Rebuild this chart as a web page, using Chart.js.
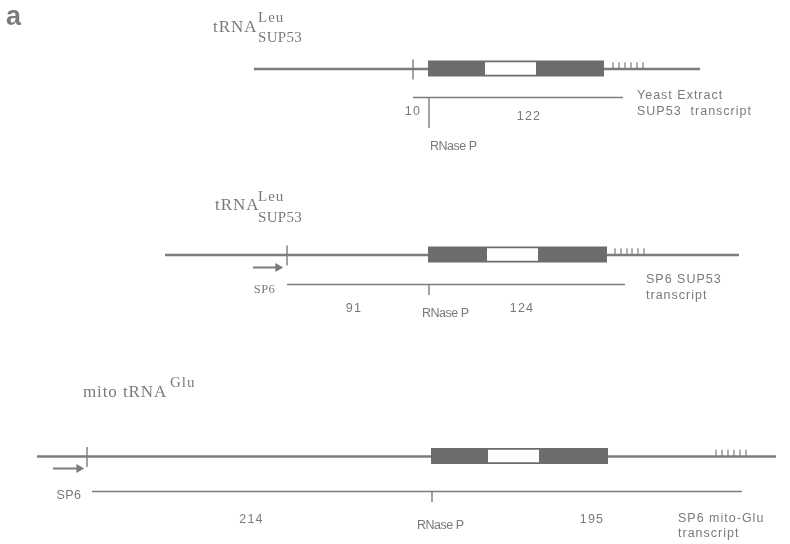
<!DOCTYPE html>
<html>
<head>
<meta charset="utf-8">
<script src="https://cdn.jsdelivr.net/npm/chart.js@4.4.1/dist/chart.umd.min.js"></script>
<style>
  body { margin: 0; background: #fff; }
  #map { display: block; }
</style>
</head>
<body>
<canvas id="map" width="790" height="544"></canvas>
<script>
// three constructs, top to bottom (x in diagram units, y = row)
const constructs = ['Yeast Extract SUP53', 'SP6 SUP53', 'SP6 mito-Glu'];
const geneY = [69, 255, 456.5];
const geneStart = [254, 165, 37];
const geneEnd = [700, 739, 776];
const startSite = [413, 287, 87];          // 5' end / SP6 start
const boxStart = [428, 428, 431];
const whiteStart = [485, 487, 488];
const whiteEnd = [536, 538, 539];
const boxEnd = [604, 607, 608];
const hashX = [
  [613, 619, 625, 631, 637, 643],
  [615, 621, 627, 632, 638, 644],
  [716, 722, 728, 734, 740, 746]
];
const transcriptY = [97.5, 284.5, 491.5];
const transcriptEnd = [623, 625, 742];
const transcriptStart = [413, 287, 92];
const rnasePX = [429, 429, 432];
const rnasePBottom = [128, 295, 502];
const arrowFrom = [null, 253, 53];
const arrowTo = [null, 283, 84];
const arrowY = [null, 267.5, 468.5];
// lengths (nt) either side of the RNase P cut
const leftLen = [10, 91, 214];
const rightLen = [122, 124, 195];
const transcriptName = [
  ['Yeast Extract', 'SUP53  transcript'],
  ['SP6 SUP53', 'transcript'],
  ['SP6 mito-Glu', 'transcript']
];

const grey = '#7c7c7c';
const boxGrey = '#6c6c6c';
const textGrey = '#7a7a7a';

const seg = (x0, y0, x1, y1) => [{x: x0, y: y0}, {x: x1, y: y1}];
const datasets = [];

constructs.forEach((name, i) => {
  // genomic line
  datasets.push({ data: seg(geneStart[i], geneY[i], geneEnd[i], geneY[i]), borderColor: grey, borderWidth: 2.6 });
  // start tick
  datasets.push({ data: seg(startSite[i], geneY[i] - 9.5, startSite[i], geneY[i] + 10.5), borderColor: grey, borderWidth: 1.4 });
  // tRNA gene box + white middle
  datasets.push({ data: seg(boxStart[i], geneY[i] - 0.5, boxEnd[i], geneY[i] - 0.5), borderColor: boxGrey, borderWidth: 16 });
  datasets.push({ data: seg(whiteStart[i], geneY[i] - 0.5, whiteEnd[i], geneY[i] - 0.5), borderColor: '#fff', borderWidth: 12.5 });
  // terminator T's
  datasets.push({
    data: hashX[i].map(v => ({x: v, y: geneY[i] - 3.5})),
    showLine: false, pointStyle: 'line', rotation: 90, pointRadius: 3.2,
    borderColor: grey, borderWidth: 1.2
  });
  // transcript
  datasets.push({ data: seg(transcriptStart[i], transcriptY[i], transcriptEnd[i], transcriptY[i]), borderColor: grey, borderWidth: 1.5 });
  datasets.push({ data: seg(rnasePX[i], transcriptY[i], rnasePX[i], rnasePBottom[i]), borderColor: grey, borderWidth: 1.4 });
  // SP6 arrow
  if (arrowFrom[i] !== null) {
    datasets.push({ data: seg(arrowFrom[i], arrowY[i], arrowTo[i] - 6, arrowY[i]), borderColor: grey, borderWidth: 2 });
    datasets.push({
      data: [{x: arrowTo[i] - 5, y: arrowY[i]}], showLine: false,
      pointStyle: 'triangle', rotation: 90, pointRadius: 5.2,
      backgroundColor: grey, borderColor: grey, borderWidth: 0
    });
  }
});

// later datasets go on top
datasets.forEach((d, i) => {
  if (d.showLine === undefined) d.showLine = true;
  if (d.pointRadius === undefined) d.pointRadius = 0;
  d.borderCapStyle = 'butt';
  d.clip = false;
  d.order = -i;
});

const labels = {
  id: 'labels',
  afterDatasetsDraw(chart) {
    const {ctx, scales: {x, y}} = chart;
    const put = (s, px, py, font, align, spacing, base) => {
      ctx.font = font;
      ctx.letterSpacing = (spacing || 0) + 'px';
      ctx.textAlign = align || 'left';
      ctx.textBaseline = base || 'middle';
      ctx.fillStyle = textGrey;
      ctx.fillText(s, x.getPixelForValue(px), y.getPixelForValue(py));
    };
    const sans = '12.5px "Liberation Sans", Arial, sans-serif';
    const serifBig = '17px "Liberation Serif", "Times New Roman", serif';
    const serifSmall = '15px "Liberation Serif", "Times New Roman", serif';

    ctx.save();
    put('a', 6, 18, 'bold 27px "Liberation Sans", Arial, sans-serif', 'left', 0);

    // titles
    put('tRNA', 213, 31.7, serifBig, 'left', 1, 'alphabetic');
    put('Leu', 258, 21.7, serifSmall, 'left', 1, 'alphabetic');
    put('SUP53', 258, 41.7, serifSmall, 'left', 0.3, 'alphabetic');
    put('tRNA', 215, 210, serifBig, 'left', 1, 'alphabetic');
    put('Leu', 258, 200.7, serifSmall, 'left', 1, 'alphabetic');
    put('SUP53', 258, 221.7, serifSmall, 'left', 0.3, 'alphabetic');
    put('mito tRNA', 83, 396.7, serifBig, 'left', 0.9, 'alphabetic');
    put('Glu', 170, 386.7, serifSmall, 'left', 1, 'alphabetic');

    // lengths
    put(String(leftLen[0]), 413, 112, sans, 'center', 1.2);
    put(String(rightLen[0]), 529, 116.5, sans, 'center', 1.2);
    put(String(leftLen[1]), 354, 308.5, sans, 'center', 1.2);
    put(String(rightLen[1]), 522, 308.5, sans, 'center', 1.2);
    put(String(leftLen[2]), 251.5, 520, sans, 'center', 1.2);
    put(String(rightLen[2]), 592, 519.5, sans, 'center', 1.2);

    // RNase P
    put('RNase P', 430, 147, sans, 'left', -0.5);
    put('RNase P', 422, 313.5, sans, 'left', -0.5);
    put('RNase P', 417, 526, sans, 'left', -0.5);

    // SP6
    put('SP6', 264.5, 289.5, '12.5px "Liberation Serif", serif', 'center', 0.5);
    put('SP6', 69, 496, sans, 'center', 0.5);

    // transcript names
    const nameX = [637, 646, 678];
    const nameY = [[96, 112], [279.5, 296], [518.5, 533.5]];
    transcriptName.forEach((pair, i) => {
      put(pair[0], nameX[i], nameY[i][0], sans, 'left', 1);
      put(pair[1], nameX[i], nameY[i][1], sans, 'left', 1);
    });
    ctx.restore();
  }
};

new Chart(document.getElementById('map').getContext('2d'), {
  type: 'scatter',
  data: { datasets },
  options: {
    responsive: false,
    animation: false,
    events: [],
    layout: { padding: 0, autoPadding: false },
    scales: {
      x: { type: 'linear', min: 0, max: 790, display: false },
      y: { type: 'linear', min: 0, max: 544, reverse: true, display: false }
    },
    plugins: { legend: { display: false }, tooltip: { enabled: false } }
  },
  plugins: [labels]
});
</script>
</body>
</html>
